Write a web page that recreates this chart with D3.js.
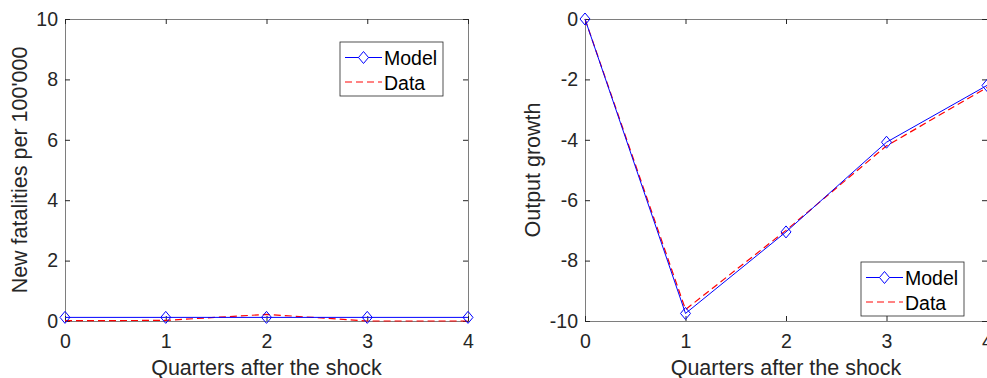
<!DOCTYPE html>
<head>
<meta charset="utf-8">
<title>Model vs data</title>
<style>
  body { margin: 0; background: #fff; }
  svg { font-family: "Liberation Sans", Arial, sans-serif; }
</style>
</head>
<body>
<svg width="987" height="378"></svg>
<script src="https://d3js.org/d3.v7.min.js"></script>
<script>
// quarters after the shock
var quarters = [0, 1, 2, 3, 4];

// left panel: new fatalities per 100'000
var fatalModel = [0.12, 0.12, 0.12, 0.12, 0.12];
var fatalData = [0.01, 0.02, 0.22, 0.0, 0.0];

// right panel: output growth
var growthModel = [0, -9.75, -7.05, -4.08, -2.2];
var growthData = [0, -9.62, -7.0, -4.2, -2.27];

var xTicks = [0, 1, 2, 3, 4];
var fatalTicks = [0, 2, 4, 6, 8, 10];
var growthTicks = [-10, -8, -6, -4, -2, 0];

var svg = d3.select("svg");
var plotTop = 19, plotBottom = 321;

var panels = [
  { left: 65, right: 468, domain: [0, 10], ticks: fatalTicks, model: fatalModel, data: fatalData,
    ylab: "New fatalities per 100'000", ylabX: 27, legend: [340, 42] },
  { left: 585, right: 987, domain: [-10, 0], ticks: growthTicks, model: growthModel, data: growthData,
    ylab: "Output growth", ylabX: 540, legend: [861, 262] }
];

// matlab style labels use a plain hyphen for minus
var fmt = function(d) { return String(d); };

var diamond = function(x, y) {
  return "M" + x + "," + (y - 6) + "L" + (x + 5) + "," + y + "L" + x + "," + (y + 6) + "L" + (x - 5) + "," + y + "Z";
};

panels.forEach(function(p) {
  var x = d3.scaleLinear().domain([0, 4]).range([p.left, p.right]);
  var y = d3.scaleLinear().domain(p.domain).range([plotBottom, plotTop]);
  var g = svg.append("g");

  // box + inward ticks
  g.append("g").attr("transform", "translate(0," + plotBottom + ")")
    .call(d3.axisBottom(x).tickValues(xTicks).tickSize(-5).tickPadding(13).tickFormat(fmt));
  g.append("g").attr("transform", "translate(0," + plotTop + ")")
    .call(d3.axisTop(x).tickValues(xTicks).tickSize(-5).tickFormat(""));
  g.append("g").attr("transform", "translate(" + p.left + ",0)")
    .call(d3.axisLeft(y).tickValues(p.ticks).tickSize(-5).tickPadding(7).tickFormat(fmt));
  g.append("g").attr("transform", "translate(" + p.right + ",0)")
    .call(d3.axisRight(y).tickValues(p.ticks).tickSize(-5).tickFormat(""));
  g.selectAll(".domain").attr("stroke", "#262626").attr("stroke-width", 0.8).attr("opacity", 0.75);
  g.selectAll(".tick line").attr("stroke", "#262626");
  g.selectAll(".tick text").attr("font-size", "19.5px").attr("fill", "#262626")
    .attr("font-family", "Liberation Sans, Arial, sans-serif");

  var line = d3.line().x(function(d, i) { return x(quarters[i]); }).y(function(d) { return y(d); });

  g.append("path").datum(p.data).attr("d", line)
    .attr("fill", "none").attr("stroke", "#ff0000").attr("stroke-width", 1.2).attr("stroke-dasharray", "7,4");
  g.append("path").datum(p.model).attr("d", line)
    .attr("fill", "none").attr("stroke", "#0000ff").attr("stroke-width", 1);
  g.selectAll(".mk").data(p.model).enter().append("path")
    .attr("d", function(d, i) { return diamond(x(quarters[i]), y(d)); })
    .attr("fill", "none").attr("stroke", "#0000ff").attr("stroke-width", 1);

  // labels
  g.append("text").attr("x", (p.left + p.right) / 2).attr("y", 375)
    .attr("text-anchor", "middle").attr("font-size", "21.5px").attr("fill", "#262626")
    .text("Quarters after the shock");
  g.append("text").attr("transform", "translate(" + p.ylabX + "," + ((plotTop + plotBottom) / 2) + ") rotate(-90)")
    .attr("text-anchor", "middle").attr("font-size", "21.5px").attr("fill", "#262626")
    .text(p.ylab);

  // legend
  var lg = g.append("g").attr("transform", "translate(" + p.legend[0] + "," + p.legend[1] + ")");
  lg.append("rect").attr("width", 103).attr("height", 54)
    .attr("fill", "#fff").attr("stroke", "#262626").attr("stroke-width", 0.8);
  lg.append("line").attr("x1", 5).attr("x2", 42).attr("y1", 15.5).attr("y2", 15.5)
    .attr("stroke", "#0000ff").attr("stroke-width", 1);
  lg.append("path").attr("d", diamond(23.5, 15.5)).attr("fill", "#fff").attr("stroke", "#0000ff");
  lg.append("line").attr("x1", 5).attr("x2", 42).attr("y1", 40).attr("y2", 40)
    .attr("stroke", "#ff5a5a").attr("stroke-width", 1.5).attr("stroke-dasharray", "7,4");
  lg.append("text").attr("x", 44).attr("y", 23).attr("font-size", "19.5px").attr("fill", "#000").text("Model");
  lg.append("text").attr("x", 44).attr("y", 47.5).attr("font-size", "19.5px").attr("fill", "#000").text("Data");
});
</script>
</body>
